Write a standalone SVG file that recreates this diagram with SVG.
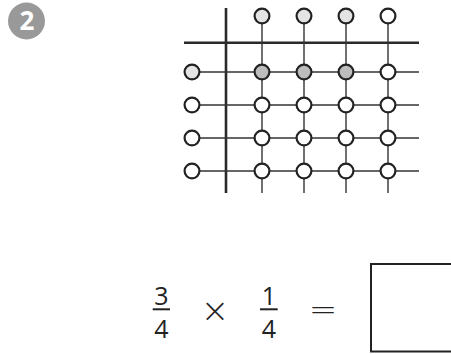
<svg xmlns="http://www.w3.org/2000/svg" width="451" height="354" viewBox="0 0 451 354">
<style>
.thin{stroke:#333;stroke-width:1.4;fill:none}
.thick{stroke:#2a2a2a;stroke-width:2.6;fill:none}
.c{stroke:#222;stroke-width:2.2}
.w{fill:#fff}
.l{fill:#e4e4e4}
.m{fill:#bdbdbd}
.num{font-family:"Open Sans","Noto Sans",sans-serif;font-size:25px;fill:#222;text-anchor:middle}
.op{font-family:"DejaVu Sans",sans-serif;font-size:34px;fill:#222;text-anchor:middle;font-weight:200}
.bar{stroke:#222;stroke-width:2}
</style>
<g id="badge">
<circle cx="26.5" cy="21" r="18.5" fill="#999"/>
<text x="27" y="30" font-family="Open Sans,Noto Sans,sans-serif" font-weight="bold" font-size="26" fill="#fff" text-anchor="middle">2</text>
</g>
<g id="connectors">
<line class="thick" x1="226" y1="8" x2="226" y2="193"/>
<line class="thick" x1="184" y1="42.7" x2="419" y2="42.7"/>
<line class="thin" x1="262" y1="16" x2="262" y2="193"/>
<line class="thin" x1="304" y1="16" x2="304" y2="193"/>
<line class="thin" x1="346" y1="16" x2="346" y2="193"/>
<line class="thin" x1="388" y1="16" x2="388" y2="193"/>
<line class="thin" x1="192" y1="72" x2="419" y2="72"/>
<line class="thin" x1="192" y1="105" x2="419" y2="105"/>
<line class="thin" x1="192" y1="138" x2="419" y2="138"/>
<line class="thin" x1="192" y1="171" x2="419" y2="171"/>
</g>
<g id="top-nodes">
<circle class="c l" cx="262" cy="16" r="7.4"/>
<circle class="c l" cx="304" cy="16" r="7.4"/>
<circle class="c l" cx="346" cy="16" r="7.4"/>
<circle class="c w" cx="388" cy="16" r="7.4"/>
</g>
<g id="left-nodes">
<circle class="c l" cx="192" cy="72" r="7.4"/>
<circle class="c w" cx="192" cy="105" r="7.4"/>
<circle class="c w" cx="192" cy="138" r="7.4"/>
<circle class="c w" cx="192" cy="171" r="7.4"/>
</g>
<g id="grid-nodes">
<circle class="c m" cx="262" cy="72" r="7.4"/>
<circle class="c m" cx="304" cy="72" r="7.4"/>
<circle class="c m" cx="346" cy="72" r="7.4"/>
<circle class="c w" cx="388" cy="72" r="7.4"/>
<circle class="c w" cx="262" cy="105" r="7.4"/>
<circle class="c w" cx="304" cy="105" r="7.4"/>
<circle class="c w" cx="346" cy="105" r="7.4"/>
<circle class="c w" cx="388" cy="105" r="7.4"/>
<circle class="c w" cx="262" cy="138" r="7.4"/>
<circle class="c w" cx="304" cy="138" r="7.4"/>
<circle class="c w" cx="346" cy="138" r="7.4"/>
<circle class="c w" cx="388" cy="138" r="7.4"/>
<circle class="c w" cx="262" cy="171" r="7.4"/>
<circle class="c w" cx="304" cy="171" r="7.4"/>
<circle class="c w" cx="346" cy="171" r="7.4"/>
<circle class="c w" cx="388" cy="171" r="7.4"/>
</g>
<g id="equation">
<text class="num" x="161.5" y="305">3</text>
<line class="bar" x1="152.7" y1="309.3" x2="170" y2="309.3"/>
<text class="num" x="161.5" y="337.5">4</text>
<text class="op" x="215" y="321.5">×</text>
<text class="num" x="269" y="305">1</text>
<line class="bar" x1="260" y1="309.3" x2="277.7" y2="309.3"/>
<text class="num" x="269" y="337.5">4</text>
<text class="op" x="323" y="321">=</text>
<rect x="371" y="264" width="100" height="87.5" fill="none" stroke="#222" stroke-width="2"/>
</g>
</svg>
